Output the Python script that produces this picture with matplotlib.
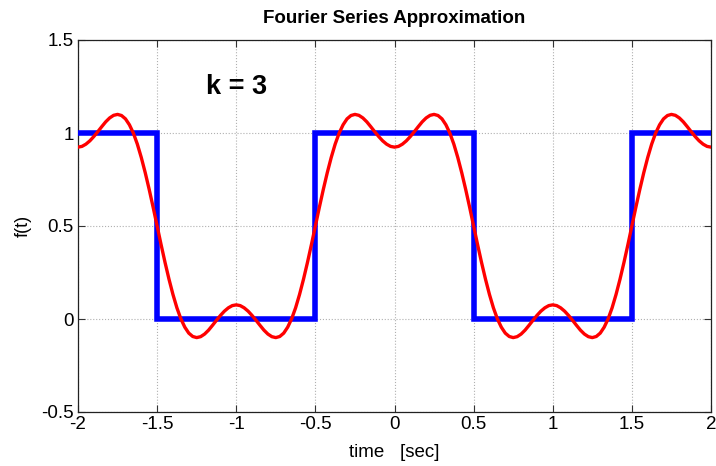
import numpy as np
import matplotlib.pyplot as plt

plt.rcParams['font.family'] = ['Liberation Sans', 'DejaVu Sans']

# time axis, step 0.025 s
t = np.linspace(-2, 2, 161)

# partial Fourier sum (k = 3), sampled over -2..2 s
approx = [
    # -2.0 .. -1.525
    0.924, 0.928, 0.940, 0.958, 0.981, 1.007, 1.034, 1.060, 1.081, 1.095,
    1.100, 1.094, 1.076, 1.044, 0.999, 0.940, 0.868, 0.786, 0.696, 0.600,
    # -1.5 .. -1.025
    0.500, 0.400, 0.304, 0.214, 0.132, 0.060, 0.001, -0.044, -0.076, -0.094,
    -0.100, -0.095, -0.081, -0.060, -0.034, -0.007, 0.019, 0.042, 0.060, 0.072,
    # -1.0 .. -0.525
    0.076, 0.072, 0.060, 0.042, 0.019, -0.007, -0.034, -0.060, -0.081, -0.095,
    -0.100, -0.094, -0.076, -0.044, 0.001, 0.060, 0.132, 0.214, 0.304, 0.400,
    # -0.5 .. -0.025
    0.500, 0.600, 0.696, 0.786, 0.868, 0.940, 0.999, 1.044, 1.076, 1.094,
    1.100, 1.095, 1.081, 1.060, 1.034, 1.007, 0.981, 0.958, 0.940, 0.928,
    # 0.0 .. 0.475
    0.924, 0.928, 0.940, 0.958, 0.981, 1.007, 1.034, 1.060, 1.081, 1.095,
    1.100, 1.094, 1.076, 1.044, 0.999, 0.940, 0.868, 0.786, 0.696, 0.600,
    # 0.5 .. 0.975
    0.500, 0.400, 0.304, 0.214, 0.132, 0.060, 0.001, -0.044, -0.076, -0.094,
    -0.100, -0.095, -0.081, -0.060, -0.034, -0.007, 0.019, 0.042, 0.060, 0.072,
    # 1.0 .. 1.475
    0.076, 0.072, 0.060, 0.042, 0.019, -0.007, -0.034, -0.060, -0.081, -0.095,
    -0.100, -0.094, -0.076, -0.044, 0.001, 0.060, 0.132, 0.214, 0.304, 0.400,
    # 1.5 .. 2.0
    0.500, 0.600, 0.696, 0.786, 0.868, 0.940, 0.999, 1.044, 1.076, 1.094,
    1.100, 1.095, 1.081, 1.060, 1.034, 1.007, 0.981, 0.958, 0.940, 0.928,
    0.924,
]

# square wave breakpoints
sq_t = [-2, -1.5, -1.5, -0.5, -0.5, 0.5, 0.5, 1.5, 1.5, 2]
sq_f = [1, 1, 0, 0, 1, 1, 0, 0, 1, 1]

k = 3

fig = plt.figure(figsize=(7.16, 4.66), dpi=100)
ax = fig.add_axes([78 / 716, 1 - 412 / 466, 633 / 716, 372 / 466])

ax.plot(sq_t, sq_f, color='#0000ff', lw=4.0, solid_joinstyle='miter', zorder=3)
ax.plot(t, approx, color='#ff0000', lw=2.4, zorder=4)

ax.set_xlim(-2, 2)
ax.set_ylim(-0.5, 1.5)
ax.set_xticks(np.arange(-2, 2.01, 0.5))
ax.set_yticks(np.arange(-0.5, 1.51, 0.5))
ax.set_xticklabels(['-2', '-1.5', '-1', '-0.5', '0', '0.5', '1', '1.5', '2'])
ax.set_yticklabels(['-0.5', '0', '0.5', '1', '1.5'])
ax.tick_params(direction='in', top=True, right=True, length=5, width=0.8,
               labelsize=13.5, pad=3, color='#333333')
ax.grid(True, color='#b0b0b0', ls=':', lw=0.8)
for s in ax.spines.values():
    s.set_linewidth(0.9)
    s.set_color('#222222')

ax.set_title('Fourier Series Approximation', fontsize=13.5, fontweight='bold', pad=12)
ax.set_xlabel('time   [sec]', fontsize=13.5, labelpad=8)
ax.set_ylabel('f(t)', fontsize=13, labelpad=7)
ax.text(-1, 1.25, f'k = {k}', fontsize=19.5, fontweight='bold',
        ha='center', va='center')

fig.savefig('out.png', dpi=100)
